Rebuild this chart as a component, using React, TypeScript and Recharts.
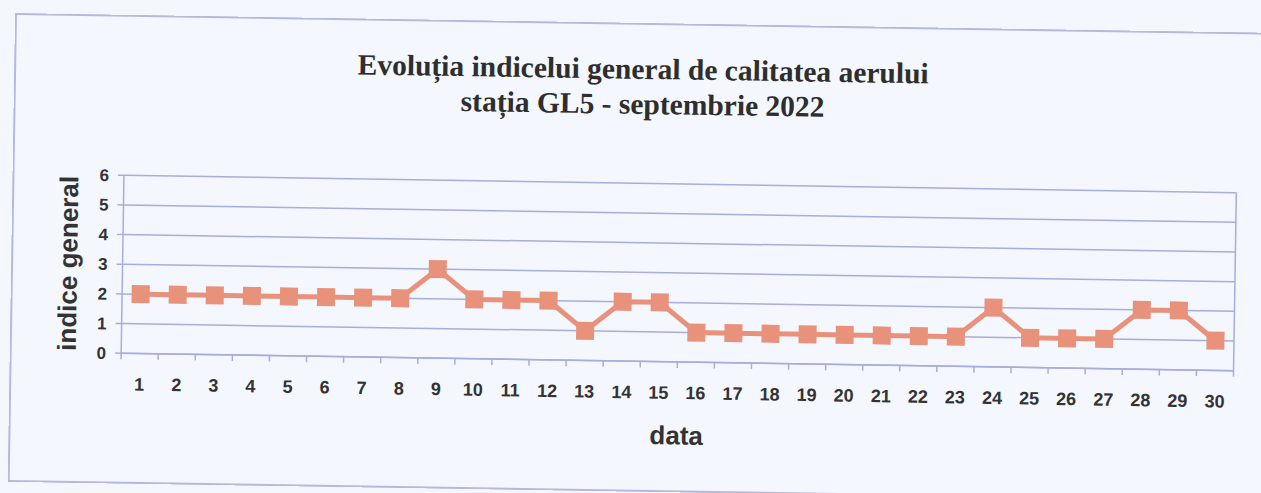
import React from "react";
import { ComposedChart, Line, XAxis, YAxis, CartesianGrid } from "recharts";

// zilele lunii (septembrie 2022)
const days = [
  "1", "2", "3", "4", "5", "6", "7", "8", "9", "10",
  "11", "12", "13", "14", "15", "16", "17", "18", "19", "20",
  "21", "22", "23", "24", "25", "26", "27", "28", "29", "30",
];
// indice general pe zi
const indexValues = [2, 2, 2, 2, 2, 2, 2, 2, 3, 2, 2, 2, 1, 2, 2, 1, 1, 1, 1, 1, 1, 1, 1, 2, 1, 1, 1, 2, 2, 1];
const yTicks = [0, 1, 2, 3, 4, 5, 6];

const titleLines = ["Evoluția indicelui general de calitatea aerului", "stația GL5 - septembrie 2022"];
const xTitle = "data";
const yTitle = "indice general";

const BG = "#f4f7fd";
const FRAME = "#b6b9de";
const GRID = "#a9addb";
const SERIES = "#e8927c";
const TEXT = "#333333";
const SANS = "'Liberation Sans', Arial, sans-serif";
const SERIF = "'Liberation Serif', 'Times New Roman', serif";

const W = 1258;
const H = 469;
const TICK_SIZE = 5;
const TICK_MARGIN = 32;

const chartData = days.map((d, i) => ({ day: d, value: indexValues[i] }));

function XTick(props: any) {
  const { x, y, payload, index, visibleTicksCount } = props;
  const half = payload.offset || 0;
  const axisY = y - TICK_SIZE - TICK_MARGIN;
  return (
    <g>
      <line x1={x - half} x2={x - half} y1={axisY} y2={axisY + 6} stroke={GRID} strokeWidth={1.5} />
      {index === visibleTicksCount - 1 && (
        <line x1={x + half} x2={x + half} y1={axisY} y2={axisY + 6} stroke={GRID} strokeWidth={1.5} />
      )}
      <text x={x} y={y} textAnchor="middle" fontFamily={SANS} fontWeight="bold" fontSize={18} fill={TEXT}>
        {payload.value}
      </text>
    </g>
  );
}

function SquareDot(props: any) {
  const { cx, cy, index } = props;
  if (cx == null || cy == null) return null;
  return <rect key={`sq-${index}`} x={cx - 9} y={cy - 9} width={18} height={18} fill={SERIES} />;
}

function YTitle(props: any) {
  const { x, y, height } = props.viewBox;
  const cx = x - 14.5;
  const cy = y + height / 2;
  return (
    <text
      x={cx}
      y={cy}
      transform={`rotate(-90 ${cx} ${cy})`}
      textAnchor="middle"
      dominantBaseline="central"
      fontFamily={SANS}
      fontWeight="bold"
      fontSize={26}
      fill={TEXT}
    >
      {yTitle}
    </text>
  );
}

function XTitle(props: any) {
  const { x, y, width } = props.viewBox;
  return (
    <text x={x + width / 2} y={y + 82.5} textAnchor="middle" fontFamily={SANS} fontWeight="bold" fontSize={26} fill={TEXT}>
      {xTitle}
    </text>
  );
}

export default function App() {
  return (
    <div style={{ position: "fixed", left: 0, top: 0, width: 1261, height: 493, background: BG, overflow: "hidden" }}>
      <div
        style={{
          position: "absolute",
          left: 15,
          top: 13,
          width: W,
          height: H,
          transform: "rotate(0.9deg)",
          transformOrigin: "0 0",
          boxShadow: `inset 0 0 0 2px ${FRAME}`,
        }}
      >
        <div
          style={{
            position: "absolute",
            left: 0,
            top: 28.6,
            width: W,
            textAlign: "center",
            fontFamily: SERIF,
            fontWeight: "bold",
            fontSize: 29.5,
            lineHeight: "35px",
            color: "#2e2e2e",
          }}
        >
          {titleLines[0]}
          <br />
          {titleLines[1]}
        </div>
        <div style={{ position: "absolute", left: 0, top: 0 }}>
          <ComposedChart width={W} height={H} data={chartData} margin={{ top: 160.5, right: 33, bottom: 70.5, left: 71.5 }}>
            <CartesianGrid vertical={false} stroke={GRID} strokeWidth={1.5} />
            <XAxis
              dataKey="day"
              scale="band"
              height={60}
              interval={0}
              tick={<XTick />}
              tickLine={false}
              tickSize={TICK_SIZE}
              tickMargin={TICK_MARGIN}
              axisLine={{ stroke: GRID, strokeWidth: 1.5 }}
              label={{ content: <XTitle /> }}
            />
            <YAxis
              width={40}
              domain={[0, 6]}
              ticks={yTicks}
              interval={0}
              tickSize={6}
              tickMargin={9}
              tickLine={{ stroke: GRID, strokeWidth: 1.5 }}
              axisLine={{ stroke: GRID, strokeWidth: 1.5 }}
              tick={{ fontFamily: SANS, fontWeight: "bold", fontSize: 17, fill: TEXT }}
              label={{ content: <YTitle /> }}
            />
            <YAxis
              yAxisId="right"
              orientation="right"
              width={1}
              domain={[0, 6]}
              tick={false}
              tickLine={false}
              axisLine={{ stroke: GRID, strokeWidth: 1.5 }}
            />
            <Line
              dataKey="value"
              stroke={SERIES}
              strokeWidth={5}
              dot={<SquareDot />}
              activeDot={false}
              isAnimationActive={false}
            />
          </ComposedChart>
        </div>
      </div>
    </div>
  );
}
